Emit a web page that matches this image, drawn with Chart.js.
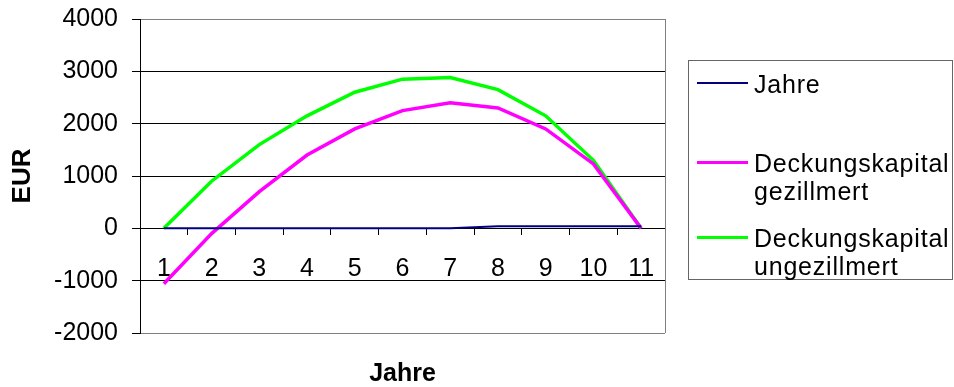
<!DOCTYPE html>
<html>
<head>
<meta charset="utf-8">
<script src="https://cdn.jsdelivr.net/npm/chart.js@4.4.0/dist/chart.umd.min.js"></script>
<style>
  html, body { margin: 0; padding: 0; background: #fff; }
  #wrap { position: relative; width: 954px; height: 387px; }
  #legende {
    position: absolute; left: 688px; top: 60px; width: 265px; height: 220px;
    border: 1px solid #666; box-sizing: border-box;
    font-family: "Liberation Sans", Arial, sans-serif; font-size: 25px; color: #000;
    letter-spacing: 0.8px;
  }
  .eintrag { position: absolute; left: 8px; display: flex; align-items: flex-start; }
  .eintrag:nth-child(1) { top: 9px; }
  .eintrag:nth-child(2) { top: 88px; }
  .eintrag:nth-child(3) { top: 163px; }
  .linie { width: 51px; margin-top: 12px; margin-right: 6px; }
  .text { white-space: pre-line; line-height: 28px; }
</style>
</head>
<body>
<div id="wrap">
  <canvas id="diagramm" width="954" height="387"></canvas>
  <div id="legende"></div>
</div>
<script>
// Daten
const jahre = ['1', '2', '3', '4', '5', '6', '7', '8', '9', '10', '11'];
const reiheJahre = [0, 0, 0, 0, 0, 0, 0, 40, 40, 40, 40];
const gezillmert = [-1060, -100, 700, 1400, 1900, 2250, 2400, 2300, 1900, 1230, 0];
const ungezillmert = [0, 900, 1600, 2150, 2600, 2850, 2880, 2650, 2150, 1300, 0];

const namen = ['Jahre', 'Deckungskapital\ngezillmert', 'Deckungskapital\nungezillmert'];
const farben = ['#000080', '#ff00ff', '#00ff00'];
const breiten = [2, 3.5, 3.5];

const schrift = '"Liberation Sans", Arial, sans-serif';

// Rahmen rechts um die Zeichenfläche
const rahmen = {
  id: 'rahmen',
  beforeDatasetsDraw(chart) {
    const a = chart.chartArea;
    const c = chart.ctx;
    c.save();
    c.strokeStyle = '#808080';
    c.lineWidth = 1;
    c.beginPath();
    c.moveTo(Math.round(a.right) + 0.5, a.top);
    c.lineTo(Math.round(a.right) + 0.5, a.bottom);
    c.stroke();
    c.restore();
  }
};

const ctx = document.getElementById('diagramm').getContext('2d');
new Chart(ctx, {
  type: 'line',
  data: {
    labels: jahre,
    datasets: [reiheJahre, gezillmert, ungezillmert].map((werte, i) => ({
      label: namen[i].replace('\n', ' '),
      data: werte,
      borderColor: farben[i],
      backgroundColor: farben[i],
      borderWidth: breiten[i],
      pointRadius: 0,
      tension: 0,
      fill: false
    }))
  },
  options: {
    responsive: false,
    animation: false,
    layout: { padding: { left: 0, right: 289, top: 19, bottom: 0 } },
    plugins: { legend: { display: false }, tooltip: { enabled: false } },
    scales: {
      x: {
        type: 'category',
        position: { y: 0 },
        offset: true,
        grid: { drawOnChartArea: false, drawTicks: true, tickLength: 6, color: '#000', offset: true },
        border: { color: '#000', width: 1 },
        ticks: { font: { family: schrift, size: 25 }, color: '#000', padding: 20, maxRotation: 0, autoSkip: false },
        afterFit(s) { s.paddingTop = 0; s.paddingBottom = 0; }
      },
      xTitel: {
        type: 'category',
        position: 'bottom',
        offset: true,
        labels: jahre,
        ticks: { display: false },
        grid: { display: false },
        border: { display: false },
        title: { display: true, text: 'Jahre', color: '#000', font: { family: schrift, size: 25, weight: 'bold', lineHeight: 1 }, padding: 0 },
        afterFit(s) { s.height = 54; }
      },
      y: {
        min: -2000,
        max: 4000,
        ticks: {
          stepSize: 1000,
          callback: v => String(v),
          padding: 14,
          color: '#000',
          font: { family: schrift, size: 25 }
        },
        grid: {
          color: c => (c.tick && (c.tick.value === 4000 || c.tick.value === -2000)) ? '#808080' : '#000',
          tickColor: '#000',
          tickLength: 8
        },
        border: { color: '#000', width: 1 },
        title: {
          display: true, text: 'EUR', color: '#000',
          font: { family: schrift, size: 26, weight: 'bold', lineHeight: 1 },
          padding: { top: 10, bottom: 0 }
        },
        afterFit(s) { s.width = 140; s.paddingTop = 0; s.paddingBottom = 0; }
      }
    }
  },
  plugins: [rahmen]
});

// Legende
const legende = document.getElementById('legende');
namen.forEach((name, i) => {
  const eintrag = document.createElement('div');
  eintrag.className = 'eintrag';
  const linie = document.createElement('div');
  linie.className = 'linie';
  linie.style.borderTop = breiten[i] + 'px solid ' + farben[i];
  const text = document.createElement('div');
  text.className = 'text';
  text.textContent = name;
  eintrag.appendChild(linie);
  eintrag.appendChild(text);
  legende.appendChild(eintrag);
});
</script>
</body>
</html>
